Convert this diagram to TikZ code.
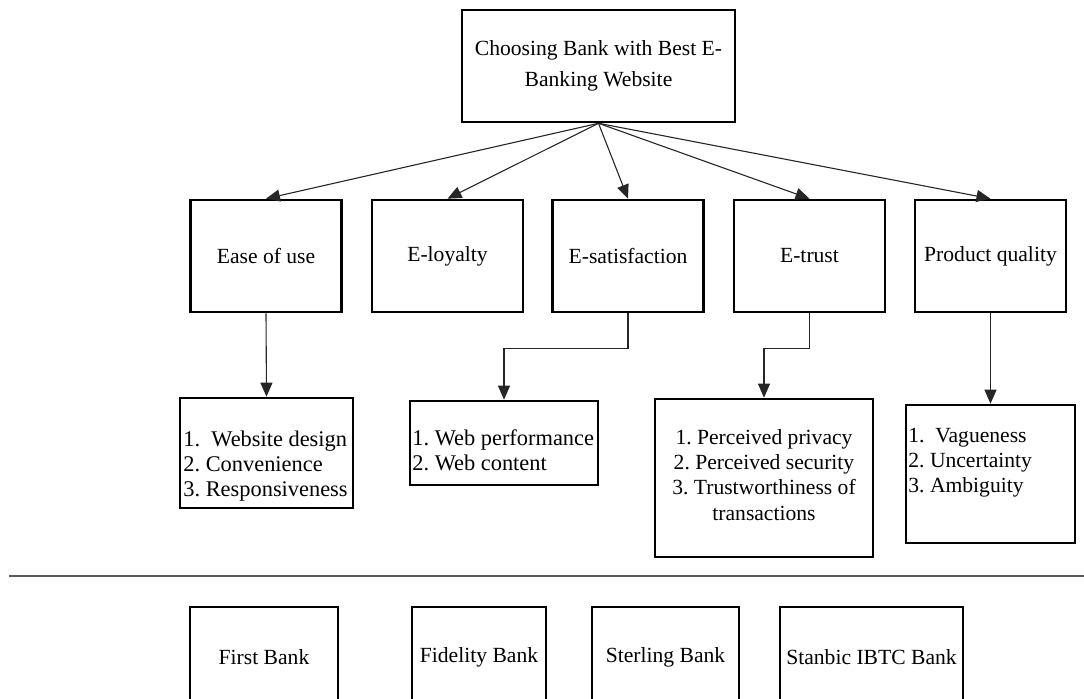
\documentclass[tikz,border=0pt]{standalone}
\usepackage{fontspec}
\setmainfont{Liberation Serif}
\usepackage{tikz}
\usetikzlibrary{arrows.meta,positioning,calc}

\begin{document}
\frenchspacing
\begin{tikzpicture}[x=0.5pt,y=-0.5pt,
  kasten/.style={draw=black,line width=1.3pt,inner sep=2pt,
    font=\fontsize{10.8}{11.6}\selectfont},
  liste/.style={inner sep=0pt,align=left},
  pfeil/.style={draw=black!85,line width=0.55pt,-{Triangle[length=7pt,width=6pt]}}]
%Seitenrahmen wie im Bild (1084 x 699 px)
\clip (0,0) rectangle (1084,699);
%Ziel oben
\node[kasten,minimum width=136.5pt,minimum height=56pt,align=center,
  font=\fontsize{10.8}{15.5}\selectfont] (ziel) at (598.5,66)
  {Choosing Bank with Best E-\\Banking Website};
%Kriterien
\foreach \name/\x/\txt in {ease/266/Ease of use,loyal/447.5/E-loyalty,esat/628/E-satisfaction,etrust/809.5/E-trust,prodq/990.5/Product quality}{
  \node[kasten,minimum width=75.5pt,minimum height=56pt] (\name) at (\x,256) {\txt};
  \draw[pfeil] (ziel.south) -- (\name.north);
}
%Unterkriterien: Kaesten
\node[kasten,minimum width=86.5pt,minimum height=55pt] (ease1) at (266.5,453) {};
\node[kasten,minimum width=94pt,minimum height=42pt] (esat1) at (504,443) {};
\node[kasten,minimum width=109pt,minimum height=79pt] (etrust1) at (764,478) {};
\node[kasten,minimum width=84.5pt,minimum height=69pt] (prodq1) at (990.5,474) {};
%Unterkriterien: Texte
\node[liste,anchor=west,font=\fontsize{11.2}{12.5}\selectfont] (ease1txt) at (183,466)
  {1.\enspace Website design\\2. Convenience\\3. Responsiveness};
\node[liste,anchor=west,font=\fontsize{11.2}{12.5}\selectfont] (esat1txt) at (412,450)
  {1. Web performance\\2. Web content};
\node[liste,align=center,font=\fontsize{10.8}{12.6}\selectfont] (etrust1txt) at (764,475)
  {1. Perceived privacy\\2. Perceived security\\3. Trustworthiness of\\transactions};
\node[liste,anchor=west,font=\fontsize{10.8}{12.6}\selectfont] (prodq1txt) at (908,463)
  {1.\enspace Vagueness\\2. Uncertainty\\3. Ambiguity};
\draw[pfeil] (ease.south) -- (ease1.north);
\draw[pfeil] (esat.south) -- ++(0,35) -| (esat1.north);
\draw[pfeil] (etrust.south) -- ++(0,35) -| (etrust1.north);
\draw[pfeil] (prodq.south) -- (prodq1.north);
%Trennlinie
\coordinate (links) at (9,576);
\coordinate (rechts) at (1084,576);
\draw[black!65,line width=0.7pt] (links) -- (rechts);
%Banken (unten abgeschnitten)
\foreach \name/\x/\w/\txt in {first/264/74/First Bank,fidelity/479/67/Fidelity Bank,sterling/665.5/73.5/Sterling Bank,stanbic/871.5/91.5/Stanbic IBTC Bank}{
  \node[kasten,minimum width=\w pt,minimum height=50pt] (\name) at (\x,657) {\txt};
}
\end{tikzpicture}
\end{document}
